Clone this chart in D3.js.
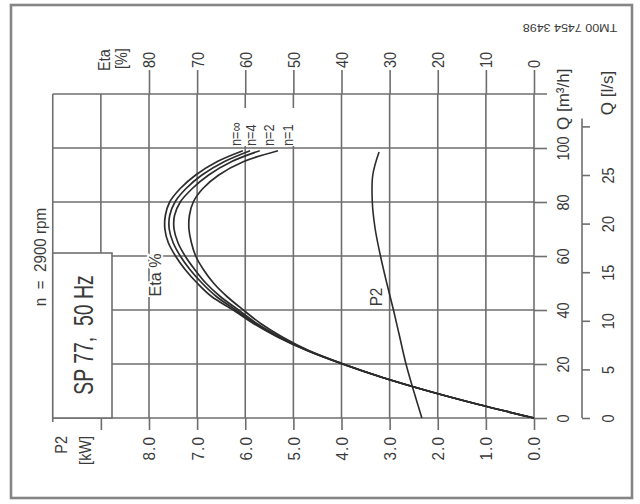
<!DOCTYPE html>
<html>
<head>
<meta charset="utf-8">
<script src="https://cdn.jsdelivr.net/npm/d3@7"></script>
<style>
  html, body { margin: 0; padding: 0; background: #ffffff; }
  svg { display: block; font-family: "Liberation Sans", Arial, Helvetica, sans-serif; }
  svg text { white-space: pre; }
</style>
</head>
<body>
<svg id="chart" width="640" height="504"></svg>
<script>
// Pump curve SP 77, 50 Hz — flow in m³/h, efficiency in %, shaft power P2 in kW
const flowQ   = [0, 5, 10, 15, 20, 25, 30, 35, 40, 45, 50, 55, 60, 65, 70, 75, 80, 85, 90, 95, 99];
const etaNinf = [0, 11.5, 22, 31.5, 39.8, 47.2, 53.3, 58.3, 62.5, 67, 70, 72.5, 74.5, 76, 76.7, 76.6, 75.7, 73.5, 70.3, 65.8, 60.5];
const etaN4   = [0, 11.5, 22, 31.5, 39.8, 47.1, 53.1, 58, 62, 66, 69, 71.5, 73.5, 75, 75.8, 75.7, 74.6, 72.3, 69, 64.3, 59];
const etaN2   = [0, 11.5, 22, 31.5, 39.7, 47, 52.8, 57.6, 61.4, 65.2, 68.2, 70.5, 72.5, 74, 74.8, 74.7, 73.5, 71, 67.6, 62.8, 57];
const etaN1   = [0, 11.5, 22, 31.4, 39.6, 46.8, 52.3, 56.8, 60.4, 63.8, 66.6, 68.7, 70.3, 71.2, 71.7, 71.6, 70.8, 68.8, 65.5, 60.3, 53.2];

const p2Flow  = [0, 10, 20, 30, 40, 50, 60, 70, 80, 90, 98.5];
const p2Power = [2.33, 2.5, 2.66, 2.79, 2.92, 3.06, 3.19, 3.3, 3.36, 3.35, 3.22];

const etaTicks  = [0, 10, 20, 30, 40, 50, 60, 70, 80];
const p2Ticks   = [0, 1, 2, 3, 4, 5, 6, 7, 8, 9];
const flowTicks = [0, 20, 40, 60, 80, 100];
const lsTicks   = [0, 5, 10, 15, 20, 25, 30];
const etaGrid   = [0, 10, 20, 30, 40, 50, 60, 70, 80, 90];

const curveNames = ["n=∞", "n=4", "n=2", "n=1"];
const etaSeries  = [etaNinf, etaN4, etaN2, etaN1];

const svg = d3.select("#chart");
const GRID = "#6e6e6e", INK = "#2c2c2c", TXT = "#3a3a3a";

// The sheet is printed sideways: values run right-to-left, flow runs bottom-to-top.
const eta  = d3.scaleLinear().domain([0, 100]).range([534, 52.75]);
const p2   = d3.scaleLinear().domain([0, 10]).range([534, 52.75]);
const q    = d3.scaleLinear().domain([0, 120]).range([418, 94]);
const qls  = d3.scaleLinear().domain([0, 120 / 3.6]).range([418, 94]);

// outer border
svg.append("rect").attr("x", 11).attr("y", 5).attr("width", 621).attr("height", 493)
  .attr("fill", "none").attr("stroke", "#858585").attr("stroke-width", 2.6);

// grid
const grid = svg.append("g").attr("stroke", GRID).attr("stroke-width", 1.6).attr("fill", "none");
grid.selectAll("line.v").data(etaGrid).join("line").attr("class", "v")
  .attr("x1", d => eta(d)).attr("x2", d => eta(d)).attr("y1", q(120)).attr("y2", q(0));
grid.append("line").attr("x1", eta(100)).attr("x2", eta(100)).attr("y1", q(120)).attr("y2", q(0) + 4);
grid.selectAll("line.h").data(flowTicks.concat([120])).join("line").attr("class", "h")
  .attr("x1", eta(100)).attr("x2", d => d === 120 ? eta(0) + 13 : eta(0)).attr("y1", d => q(d)).attr("y2", d => q(d));

function styleAxis(g) {
  g.select(".domain").remove();
  g.selectAll(".tick line").attr("stroke", GRID).attr("stroke-width", 1.6);
  g.selectAll(".tick text").attr("fill", TXT).attr("font-size", 17).attr("x", 0).attr("y", 0).attr("dy", "0.35em");
}

// P2 axis (bottom of the sheet)
const p2Axis = svg.append("g").attr("transform", `translate(0,${q(0)})`)
  .call(d3.axisBottom(p2).tickValues(p2Ticks).tickSize(12).tickFormat(d => d === 9 ? "" : d.toFixed(1)));
styleAxis(p2Axis);
p2Axis.selectAll(".tick text").attr("text-anchor", "end").attr("letter-spacing", 1.2)
  .attr("transform", "translate(0,18) rotate(-90) scale(0.9,1)");

// Eta axis (top of the sheet)
const etaAxis = svg.append("g").attr("transform", `translate(0,${q(120)})`)
  .call(d3.axisTop(eta).tickValues(etaTicks).tickSize(24));
styleAxis(etaAxis);
etaAxis.selectAll(".tick text").attr("text-anchor", "start")
  .attr("transform", "translate(0,-26) rotate(-90) scale(0.85,1)");

// Flow axis in m³/h
const qAxis = svg.append("g").attr("transform", `translate(${eta(0)},0)`)
  .call(d3.axisRight(q).tickValues(flowTicks).tickSize(13));
styleAxis(qAxis);
qAxis.selectAll(".tick text").attr("text-anchor", "middle")
  .attr("transform", "translate(29,0) rotate(-90) scale(0.85,1)");

// Flow axis in l/s
const lsAxis = svg.append("g").attr("transform", "translate(582,0)")
  .call(d3.axisRight(qls).tickValues(lsTicks).tickSize(8).tickFormat(d => d === 30 ? "" : d));
styleAxis(lsAxis);
lsAxis.selectAll(".tick text").attr("text-anchor", "middle")
  .attr("transform", "translate(26,0) rotate(-90) scale(0.85,1)");
lsAxis.append("line").attr("x1", 0).attr("x2", 0).attr("y1", qls(0)).attr("y2", qls(30) - 8)
  .attr("stroke", GRID).attr("stroke-width", 1.6);

// rotated text helper
function vtext(x, y, str, opts) {
  const o = Object.assign({ size: 17, anchor: "middle", sx: 0.85, halo: false }, opts || {});
  const t = svg.append("text")
    .attr("transform", `translate(${x},${y}) rotate(-90) scale(${o.sx},1)`)
    .attr("text-anchor", o.anchor).attr("dy", "0.35em")
    .attr("font-size", o.size).attr("fill", TXT).text(str);
  if (o.halo) t.attr("stroke", "#fff").attr("stroke-width", 4).attr("paint-order", "stroke");
  return t;
}

// axis titles
vtext(104, 71, "Eta", { anchor: "start" });
vtext(121, 69, "[%]", { anchor: "start" });
vtext(61, 436, "P2", { anchor: "end" });
vtext(85, 436, "[kW]", { anchor: "end" });
vtext(563, 130, "Q [m³/h]", { anchor: "start", sx: 1.0 });
vtext(607, 93, "Q [l/s]", { anchor: "middle", sx: 1.0 });
vtext(40, 257, "n  =  2900 rpm", { anchor: "middle", size: 16, sx: 0.95 });

// drawing number, printed upside down
svg.append("text").attr("transform", "translate(570,28) rotate(180) scale(1,0.8)")
  .attr("text-anchor", "middle").attr("dy", "0.35em").attr("font-size", 12.5).attr("fill", TXT)
  .text("TM00 7454 3498");

// title box
svg.append("rect").attr("x", eta(100)).attr("y", 253).attr("width", 112 - eta(100)).attr("height", q(0) - 253)
  .attr("fill", "#fff").attr("stroke", GRID).attr("stroke-width", 1.6);
vtext(84, 335, "SP 77,  50 Hz", { size: 27, sx: 0.72 });

// curves
const etaLine = d3.line().x(d => eta(d[1])).y(d => q(d[0])).curve(d3.curveCatmullRom.alpha(0.5));
svg.append("g").selectAll("path").data(etaSeries).join("path")
  .attr("d", s => etaLine(flowQ.map((f, i) => [f, s[i]])))
  .attr("fill", "none").attr("stroke", INK).attr("stroke-width", 1.7);

const p2Line = d3.line().x(d => p2(d[1])).y(d => q(d[0])).curve(d3.curveCatmullRom.alpha(0.5));
svg.append("path").attr("d", p2Line(p2Flow.map((f, i) => [f, p2Power[i]])))
  .attr("fill", "none").attr("stroke", INK).attr("stroke-width", 1.6);

// curve labels
svg.append("rect").attr("x", 229).attr("y", 108).attr("width", 70).attr("height", 38).attr("fill", "#fff");
const nLabelEta = [62, 58.8, 55.2, 51.2];
curveNames.forEach((name, i) => vtext(eta(nLabelEta[i]), 146, name, { anchor: "start", size: 15 }));
vtext(155, 275, "Eta %", { size: 17, sx: 0.95, halo: true });
vtext(376, 297, "P2", { size: 17, sx: 0.9, halo: true });
</script>
</body>
</html>
